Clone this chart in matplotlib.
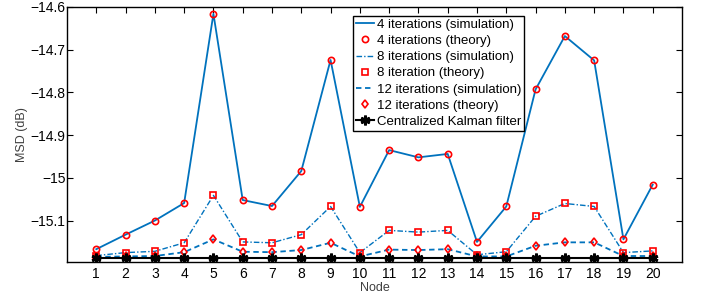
import matplotlib
matplotlib.use("Agg")
import matplotlib.pyplot as plt
import numpy as np

plt.rcParams['font.family'] = ['Liberation Sans', 'DejaVu Sans']

nodes = np.arange(1, 21)

msd_4_sim = [-15.167, -15.133, -15.100, -15.059, -14.616, -15.052, -15.066, -14.984, -14.724, -15.068,
             -14.935, -14.952, -14.944, -15.150, -15.067, -14.793, -14.668, -14.725, -15.144, -15.016]
msd_4_th = msd_4_sim

msd_8_sim = [-15.182, -15.175, -15.172, -15.152, -15.041, -15.150, -15.152, -15.133, -15.067, -15.175,
             -15.123, -15.127, -15.123, -15.180, -15.173, -15.090, -15.060, -15.067, -15.175, -15.171]
msd_8_th = msd_8_sim

msd_12_sim = [-15.185, -15.184, -15.183, -15.174, -15.144, -15.173, -15.174, -15.169, -15.152, -15.184,
              -15.168, -15.169, -15.167, -15.184, -15.184, -15.159, -15.151, -15.151, -15.183, -15.183]
msd_12_th = msd_12_sim

kalman = [-15.188] * 20

blue = '#0072bd'
red = '#ff0000'

fig = plt.figure(figsize=(7.02, 2.97), dpi=100)
ax = fig.add_axes([67 / 702, 35 / 297, 615 / 702, 255 / 297])

ax.plot(nodes, msd_4_sim, '-', color=blue, lw=1.3, label='4 iterations (simulation)')
ax.plot(nodes, msd_4_th, 'o', mfc='none', mec=red, ms=4.5, mew=1.2, ls='none', label='4 iterations (theory)')
ax.plot(nodes, msd_8_sim, color=blue, lw=1.0, ls=(0, (4, 1.5, 1, 1.5)), label='8 iterations (simulation)')
ax.plot(nodes, msd_8_th, 's', mfc='none', mec=red, ms=4, mew=1.2, ls='none', label='8 iteration (theory)')
ax.plot(nodes, msd_12_sim, '--', color=blue, lw=1.3, dashes=(3, 2), label='12 iterations (simulation)')
ax.plot(nodes, msd_12_th, 'd', mfc='none', mec=red, ms=4.5, mew=1.2, ls='none', label='12 iterations (theory)')
# bold asterisk like the MATLAB '*' marker
ax.plot(nodes, kalman, '-', color='black', lw=1.5, marker=(6, 2, 0), ms=7, mew=2,
        label='Centralized Kalman filter')

ax.set_xlim(0, 21)
ax.set_ylim(-15.197, -14.6)
ax.set_xticks(nodes)
ax.set_yticks([-15.1, -15.0, -14.9, -14.8, -14.7, -14.6])
ax.set_yticklabels(['\u221215.1', '\u221215', '\u221214.9', '\u221214.8', '\u221214.7', '\u221214.6'])
ax.tick_params(direction='in', top=True, right=True, length=4, labelsize=10)
ax.tick_params(axis='y', pad=1)
for s in ax.spines.values():
    s.set_linewidth(1.0)

ax.set_xlabel('Node', fontsize=9, color='#404040', labelpad=1)
ax.set_ylabel('MSD (dB)', fontsize=9, color='#404040', labelpad=2)

leg = ax.legend(loc='upper left', fontsize=9.5, frameon=True, fancybox=False, edgecolor='black',
                framealpha=1, borderpad=0.2, labelspacing=0.3, handlelength=1.4,
                handletextpad=0.2, borderaxespad=0)
leg.set_bbox_to_anchor(((353 - 67) / 615, (262 - 16) / 255), transform=ax.transAxes)
leg.get_frame().set_linewidth(1.0)

fig.savefig('out.png', dpi=100)
